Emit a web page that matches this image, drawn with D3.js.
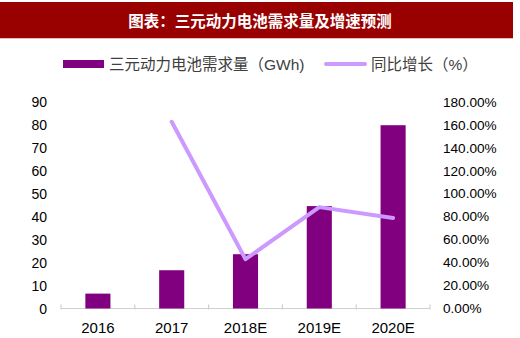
<!DOCTYPE html>
<html><head><meta charset="utf-8">
<script src="https://cdn.jsdelivr.net/npm/d3@7"></script>
<style>body{margin:0;background:#fff}svg{display:block}</style>
</head><body>
<script>
const title = "图表：三元动力电池需求量及增速预测";
const categories = ["2016", "2017", "2018E", "2019E", "2020E"];
const demand = [6.5, 16.7, 23.7, 44.7, 80];
const growth = [null, 1.63, 0.43, 0.885, 0.79];
const leftTicks = [0,10,20,30,40,50,60,70,80,90];
const rightTicks = [0,0.2,0.4,0.6,0.8,1.0,1.2,1.4,1.6,1.8];
const legendLabels = ["三元动力电池需求量（GWh)", "同比增长（%）"];

const W = 520, H = 338;
const svg = d3.select("body").append("svg").attr("width", W).attr("height", H);
const cjk = "Liberation Sans, Arial, 'Noto Sans CJK SC', sans-serif";

svg.append("rect").attr("x",0).attr("y",2).attr("width",513).attr("height",36).attr("fill","#990000");
svg.append("line").attr("x1",0).attr("x2",513).attr("y1",38.5).attr("y2",38.5).attr("stroke","#e9b8b8").attr("stroke-width",1);
svg.append("text").attr("x",260).attr("y",20).attr("text-anchor","middle").attr("dominant-baseline","central")
  .attr("fill","#fff").attr("font-family","'Noto Sans CJK SC', sans-serif").attr("font-weight","bold")
  .attr("font-size",15.5).text(title);

const x = d3.scaleBand().domain(categories).range([61, 430]);
const yL = d3.scaleLinear().domain([0, 90]).range([308.5, 102.3]);
const yR = d3.scaleLinear().domain([0, 1.8]).range([308.5, 102.3]);

// left axis labels
svg.append("g").selectAll("text").data(leftTicks).join("text")
  .attr("x", 47).attr("y", d => yL(d)).attr("text-anchor","end").attr("dominant-baseline","central")
  .attr("font-family","Liberation Sans, Arial, sans-serif").attr("font-size",14).attr("fill","#000")
  .text(d => d);
// right axis labels
svg.append("g").selectAll("text").data(rightTicks).join("text")
  .attr("x", 443).attr("y", d => yR(d)).attr("text-anchor","start").attr("dominant-baseline","central")
  .attr("font-family","Liberation Sans, Arial, sans-serif").attr("font-size",13.6).attr("fill","#000")
  .text(d => d3.format(".2%")(d));

// x axis
const xAxis = d3.axisBottom(x).tickSize(0).tickPadding(0);
const gx = svg.append("g").attr("transform", `translate(0,${yL(0)})`);
gx.append("line").attr("x1",61).attr("x2",430).attr("y1",0).attr("y2",0).attr("stroke","#d0d0d0").attr("stroke-width",1.2);
const bounds = categories.map(c => x(c)).concat([x.range()[1]]);
gx.selectAll("line.tk").data(bounds).join("line").attr("class","tk")
  .attr("x1", d => d).attr("x2", d => d).attr("y1", -4).attr("y2", 1).attr("stroke","#d0d0d0").attr("stroke-width",1.2);
gx.selectAll("text.lab").data(categories).join("text").attr("class","lab")
  .attr("x", d => x(d) + x.bandwidth()/2).attr("y", 19).attr("text-anchor","middle").attr("dominant-baseline","central")
  .attr("font-family","Liberation Sans, Arial, sans-serif").attr("font-size",15).attr("fill","#000").text(d => d);

// bars
const bw = x.bandwidth() * 0.34;
svg.append("g").selectAll("rect").data(categories).join("rect")
  .attr("x", (d) => x(d) + x.bandwidth()/2 - bw/2)
  .attr("y", (d,i) => yL(demand[i]))
  .attr("width", bw)
  .attr("height", (d,i) => yL(0) - yL(demand[i]))
  .attr("fill", "#800080");

// line
const pts = categories.map((c,i) => ({c, v: growth[i]})).filter(d => d.v != null);
const line = d3.line().x(d => x(d.c) + x.bandwidth()/2).y(d => yR(d.v));
svg.append("path").datum(pts).attr("d", line).attr("fill","none").attr("stroke","#CC99FF")
  .attr("stroke-width",4).attr("stroke-linecap","round").attr("stroke-linejoin","round");

// legend
const lg = svg.append("g");
lg.append("rect").attr("x",63).attr("y",60).attr("width",41).attr("height",8).attr("fill","#800080");
lg.append("text").attr("x",109).attr("y",64).attr("dominant-baseline","central")
  .attr("font-family",cjk).attr("font-size",15.5).attr("fill","#404040").text(legendLabels[0]);
lg.append("line").attr("x1",326).attr("x2",365).attr("y1",64).attr("y2",64).attr("stroke","#CC99FF")
  .attr("stroke-width",4).attr("stroke-linecap","round");
lg.append("text").attr("x",371).attr("y",64).attr("dominant-baseline","central")
  .attr("font-family",cjk).attr("font-size",15.5).attr("fill","#404040").text(legendLabels[1]);
</script>
</body></html>
